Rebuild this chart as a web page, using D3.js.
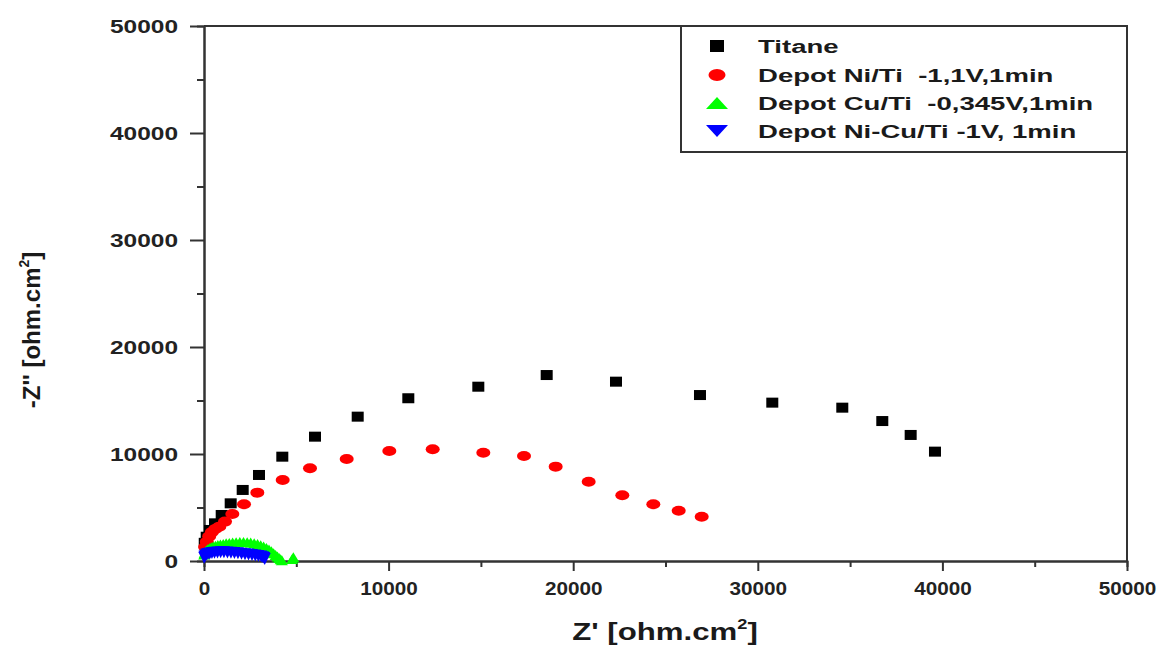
<!DOCTYPE html>
<html>
<head>
<meta charset="utf-8">
<script src="https://cdnjs.cloudflare.com/ajax/libs/d3/7.8.5/d3.min.js"></script>
<style>
    body { margin: 0; background: #fff; }
    svg { display: block; font-family: "Liberation Sans", Arial, sans-serif; }
    text { font-weight: bold; white-space: pre; }
</style>
</head>
<body>
<svg width="1164" height="645"></svg>
<script>
// Nyquist points [Z', -Z''] in ohm.cm2
const titane = [[40, 1700], [146, 2270], [325, 2900], [596, 3520], [959, 4300], [1446, 5390],
    [2096, 6640], [2979, 8040], [4242, 9750], [6013, 11620], [8326, 13490], [11068, 15210],
    [14860, 16290], [18564, 17380], [22318, 16760], [26868, 15510], [30785, 14800],
    [34577, 14330], [36744, 13080], [38281, 11780], [39598, 10220]];

const depot_ni = [[60, 1300], [150, 1800], [280, 2300], [430, 2700], [620, 3000], [830, 3210],
    [1138, 3680], [1535, 4390], [2167, 5300], [2888, 6390], [4263, 7570], [5742, 8660],
    [7730, 9530], [10040, 10280], [12388, 10440], [15131, 10120], [17334, 9810], [19050, 8820],
    [20838, 7410], [22660, 6140], [24340, 5300], [25714, 4700], [26960, 4140]];

const depot_cu = [[10, 600], [40, 750], [80, 880], [130, 990], [200, 1090], [290, 1190],
    [390, 1280], [500, 1360], [620, 1430], [750, 1490], [890, 1550], [1040, 1600], [1200, 1650],
    [1370, 1690], [1550, 1730], [1740, 1760], [1940, 1780], [2140, 1780], [2340, 1760],
    [2530, 1720], [2720, 1660], [2900, 1580], [3070, 1480], [3230, 1360], [3380, 1220],
    [3520, 1070], [3650, 900], [3770, 730], [3880, 560], [3980, 410], [4070, 280], [4150, 160],
    [4220, 60], [4780, 180], [4840, 350]];

const depot_nicu = [[10, 300], [30, 420], [70, 520], [130, 600], [210, 660], [310, 710],
    [430, 750], [570, 780], [730, 800], [900, 810], [1080, 810], [1270, 800], [1460, 780],
    [1650, 750], [1840, 720], [2030, 680], [2220, 640], [2410, 600], [2600, 560], [2780, 520],
    [2950, 470], [3100, 420], [3200, 360], [3260, 280], [3290, 180]];

const series_names = ['Titane', 'Depot Ni/Ti  -1,1V,1min', 'Depot Cu/Ti  -0,345V,1min', 'Depot Ni-Cu/Ti -1V, 1min'];
const series_colors = ['#000000', '#ff0000', '#00ff00', '#0000ff'];
const series_symbols = ['square', 'circle', 'triangle', 'triangle-down'];

const major_ticks = [0, 10000, 20000, 30000, 40000, 50000];
const minor_ticks = [5000, 15000, 25000, 35000, 45000];

let svg = d3.select('svg');

let x = d3.scaleLinear().domain([0, 50000]).range([204, 1127]);
let y = d3.scaleLinear().domain([0, 50000]).range([561, 26]);

function drawMarker(g, type, color, w, h) {
    if (type === 'square') {
        g.append('rect').attr('x', -w / 2).attr('y', -h / 2).attr('width', w).attr('height', h).attr('fill', color);
    }
    else if (type === 'circle') {
        g.append('ellipse').attr('rx', w / 2).attr('ry', h / 2).attr('fill', color);
    }
    else if (type === 'triangle') {
        g.append('path').attr('d', 'M0,' + (-h / 2) + 'L' + (w / 2) + ',' + (h / 2) + 'L' + (-w / 2) + ',' + (h / 2) + 'Z').attr('fill', color);
    }
    else {
        g.append('path').attr('d', 'M0,' + (h / 2) + 'L' + (w / 2) + ',' + (-h / 2) + 'L' + (-w / 2) + ',' + (-h / 2) + 'Z').attr('fill', color);
    }
}

// frame: top and right sides
svg.append('path')
    .attr('d', 'M' + x(0) + ',' + y(50000) + 'H' + x(50000) + 'V' + y(0))
    .attr('fill', 'none').attr('stroke', '#333').attr('stroke-width', 2);

// axes
let y_axis = svg.append('g').attr('transform', 'translate(' + x(0) + ',0)')
    .call(d3.axisLeft(y).tickValues(major_ticks).tickSize(14).tickSizeOuter(0).tickFormat(d3.format('d')));
let y_minor = svg.append('g').attr('transform', 'translate(' + x(0) + ',0)')
    .call(d3.axisLeft(y).tickValues(minor_ticks).tickSize(7).tickFormat(''));

let x_axis = svg.append('g').attr('transform', 'translate(0,' + y(0) + ')')
    .call(d3.axisBottom(x).tickValues(major_ticks).tickSize(10).tickSizeOuter(0).tickFormat(d3.format('d')));
let x_minor = svg.append('g').attr('transform', 'translate(0,' + y(0) + ')')
    .call(d3.axisBottom(x).tickValues(minor_ticks).tickSize(6).tickFormat(''));

[y_axis, y_minor, x_axis, x_minor].forEach(function (a) {
    a.select('.domain').attr('stroke', '#333').attr('stroke-width', 2);
    a.selectAll('.tick line').attr('stroke', '#333').attr('stroke-width', 2);
});

// the original figure is stretched sideways, so labels get a horizontal scale
const ylab_sx = 1.36;
y_axis.selectAll('.tick text')
    .attr('font-size', 18).attr('font-family', null).attr('fill', '#222')
    .attr('x', -26 / ylab_sx).attr('dy', '0.36em')
    .attr('transform', 'scale(' + ylab_sx + ',1)');

x_axis.selectAll('.tick text')
    .attr('font-size', 18).attr('font-family', null).attr('fill', '#222')
    .attr('y', 21).attr('dy', '0.71em')
    .attr('transform', 'scale(1.15,1)');

// series
const all_series = [titane, depot_ni, depot_cu, depot_nicu];
const marker_size = [[12, 10], [14, 10], [12, 10], [12, 12]];

all_series.forEach(function (pts, i) {
    let layer = svg.append('g').attr('class', 'series');
    layer.selectAll('g').data(pts).enter().append('g')
        .attr('transform', function (d) {
            return 'translate(' + x(d[0]) + ',' + y(d[1]) + ')';
        })
        .each(function () {
            drawMarker(d3.select(this), series_symbols[i], series_colors[i], marker_size[i][0], marker_size[i][1]);
        });
});

// legend
let legend = svg.append('g');
legend.append('rect')
    .attr('x', 681).attr('y', 26).attr('width', 446).attr('height', 126)
    .attr('fill', '#fff').attr('stroke', '#333').attr('stroke-width', 2);

const legend_rows = [46, 75, 103, 131];
const legend_size = [[14, 12], [17, 12], [22, 12], [22, 12]];
series_names.forEach(function (name, i) {
    let row = legend.append('g').attr('transform', 'translate(0,' + legend_rows[i] + ')');
    drawMarker(row.append('g').attr('transform', 'translate(717,0)'), series_symbols[i], series_colors[i], legend_size[i][0], legend_size[i][1]);
    row.append('text')
        .attr('transform', 'translate(758,7) scale(1.45,1)')
        .attr('font-size', 19).attr('fill', '#1a1a1a')
        .text(name);
});

// axis titles
let xt = svg.append('text')
    .attr('transform', 'translate(665,640) scale(1.3,1)')
    .attr('text-anchor', 'middle').attr('font-size', 24).attr('fill', '#1a1a1a');
xt.append('tspan').text("Z' [ohm.cm");
xt.append('tspan').attr('font-size', 14).attr('dy', -11).text('2');
xt.append('tspan').attr('dy', 11).text(']');

let yt = svg.append('text')
    .attr('transform', 'translate(40,330) rotate(-90)')
    .attr('text-anchor', 'middle').attr('font-size', 24).attr('fill', '#1a1a1a');
yt.append('tspan').text("-Z'' [ohm.cm");
yt.append('tspan').attr('font-size', 14).attr('dy', -11).text('2');
yt.append('tspan').attr('dy', 11).text(']');
</script>
</body>
</html>
